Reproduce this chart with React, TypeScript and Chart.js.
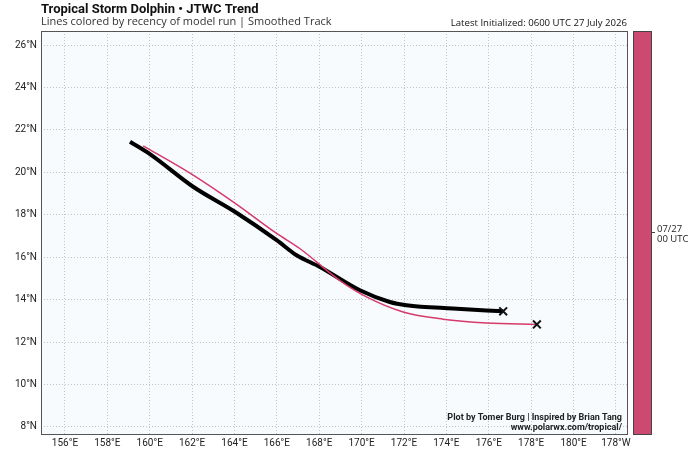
import React, { useEffect, useRef } from "react";
import { Chart, registerables } from "chart.js";
Chart.register(...registerables);

const FONT = "Roboto, 'Noto Sans', sans-serif";
const FONT2 = "'Open Sans', 'Noto Sans', sans-serif";

const titleText = "Tropical Storm Dolphin \u2022 JTWC Trend";
const subtitleText = "Lines colored by recency of model run | Smoothed Track";
const initText = "Latest Initialized: 0600 UTC 27 July 2026";
const creditLines = ["Plot by Tomer Burg | Inspired by Brian Tang", "www.polarwx.com/tropical/"];
const colorbarLabel = ["07/27", "00 UTC"];

const lonTicks = [156, 158, 160, 162, 164, 166, 168, 170, 172, 174, 176, 178, 180, 182];
const latTicks = [8, 10, 12, 14, 16, 18, 20, 22, 24, 26];

const trendLon = [159.07, 160.01, 162.05, 164.02, 165.99, 166.93, 168.03, 169.92, 171.33, 172.12, 174.30, 176.68];
const trendLat = [21.44, 20.86, 19.32, 18.14, 16.80, 16.09, 15.54, 14.44, 13.89, 13.74, 13.58, 13.45];

const runLon = [159.69, 162.05, 164.02, 165.99, 167.08, 168.96, 170.23, 171.96, 173.84, 175.89, 178.27];
const runLat = [21.25, 19.87, 18.55, 17.12, 16.41, 14.91, 14.13, 13.42, 13.08, 12.90, 12.83];

const PINK = "#d63a6b";
const BAR = "#cc4a72";

function lonLabel(v: number) {
  if (v <= 180) return `${v}\u00b0E`;
  return `${360 - v}\u00b0W`;
}

const decorPlugin = {
  id: "decor",
  beforeDraw(chart: any) {
    const { ctx, chartArea } = chart;
    ctx.save();
    ctx.fillStyle = "#f7fbfe";
    ctx.fillRect(chartArea.left, chartArea.top, chartArea.right - chartArea.left, chartArea.bottom - chartArea.top);
    ctx.restore();
  },
  afterDraw(chart: any) {
    const { ctx, chartArea } = chart;
    ctx.save();
    ctx.strokeStyle = "#555555";
    ctx.lineWidth = 1;
    ctx.strokeRect(chartArea.left + 0.5, chartArea.top + 0.5, chartArea.right - chartArea.left - 1, chartArea.bottom - chartArea.top - 1);
    ctx.fillStyle = "#111111";
    ctx.textBaseline = "alphabetic";
    ctx.textAlign = "left";
    ctx.font = `bold 13px ${FONT}`;
    ctx.fillText(titleText, chartArea.left, 13);
    ctx.fillStyle = "#333333";
    ctx.font = `11px ${FONT2}`;
    ctx.fillText(subtitleText, chartArea.left, 25);
    ctx.fillStyle = "#111111";
    ctx.textAlign = "right";
    ctx.font = `9.6px ${FONT2}`;
    ctx.fillText(initText, chartArea.right - 1, 26);
    ctx.font = `bold 9px ${FONT}`;
    ctx.fillStyle = "#222222";
    ctx.fillText(creditLines[0], chartArea.right - 6, 420);
    ctx.fillText(creditLines[1], chartArea.right - 6, 430);
    const bx = chartArea.right + 5;
    const bw = 19;
    ctx.fillStyle = BAR;
    ctx.fillRect(bx, chartArea.top, bw, chartArea.bottom - chartArea.top);
    ctx.strokeStyle = "#444444";
    ctx.strokeRect(bx + 0.5, chartArea.top + 0.5, bw - 1, chartArea.bottom - chartArea.top - 1);
    const ty = 232;
    ctx.beginPath();
    ctx.moveTo(bx + bw, ty + 0.5);
    ctx.lineTo(bx + bw + 3, ty + 0.5);
    ctx.stroke();
    ctx.fillStyle = "#222222";
    ctx.font = `9.5px ${FONT2}`;
    ctx.textAlign = "left";
    ctx.textBaseline = "middle";
    ctx.fillText(colorbarLabel[0], bx + bw + 5, 229);
    ctx.fillText(colorbarLabel[1], bx + bw + 5, 239);
    ctx.restore();
  },
};

export default function App() {
  const ref = useRef<HTMLCanvasElement>(null);
  useEffect(() => {
    document.body.style.margin = "0";
    const canvas = ref.current!;
    const lastRadius = (n: number) => (c: any) => (c.dataIndex === n - 1 ? 5.5 : 0);
    const chart = new Chart(canvas, {
      type: "scatter",
      data: {
        datasets: [
          {
            label: "run",
            data: runLon.map((x, i) => ({ x, y: runLat[i] })),
            showLine: true,
            borderColor: PINK,
            borderWidth: 1.5,
            cubicInterpolationMode: "monotone",
            pointStyle: "crossRot",
            pointRadius: lastRadius(runLon.length),
            pointBorderColor: "#111111",
            pointBorderWidth: 2,
            pointBackgroundColor: "#111111",
          },
          {
            label: "trend",
            data: trendLon.map((x, i) => ({ x, y: trendLat[i] })),
            showLine: true,
            borderColor: "#000000",
            borderWidth: 4,
            cubicInterpolationMode: "monotone",
            pointStyle: "crossRot",
            pointRadius: lastRadius(trendLon.length),
            pointBorderColor: "#111111",
            pointBorderWidth: 2,
            pointBackgroundColor: "#111111",
          },
        ],
      },
      options: {
        responsive: false,
        animation: false,
        layout: { padding: { top: 31, right: 71, left: 0, bottom: 0 } },
        plugins: { legend: { display: false }, tooltip: { enabled: false }, title: { display: false } },
        scales: {
          x: {
            type: "linear",
            min: 154.87,
            max: 182.57,
            afterFit: (s: any) => { s.height = 14; },
            afterBuildTicks: (s: any) => { s.ticks = lonTicks.map((v) => ({ value: v })); },
            ticks: {
              callback: (v: any) => lonLabel(Number(v)),
              color: "#222222",
              font: { family: FONT, size: 10 },
              padding: 2,
              maxRotation: 0,
              autoSkip: false,
            },
            grid: { color: "#c4c4c4", lineWidth: 1, drawTicks: false, tickLength: 0 },
            border: { display: false, dash: [1, 2] },
          },
          y: {
            type: "linear",
            min: 7.62,
            max: 26.66,
            afterFit: (s: any) => { s.width = 41; },
            afterBuildTicks: (s: any) => { s.ticks = latTicks.map((v) => ({ value: v })); },
            ticks: {
              callback: (v: any) => `${v}\u00b0N`,
              color: "#222222",
              font: { family: FONT, size: 10 },
              padding: 4,
              autoSkip: false,
            },
            grid: { color: "#c4c4c4", lineWidth: 1, drawTicks: false, tickLength: 0 },
            border: { display: false, dash: [1, 2] },
          },
        },
      },
      plugins: [decorPlugin],
    } as any);
    return () => chart.destroy();
  }, []);
  return <canvas ref={ref} width={699} height={449} style={{ display: "block" }} />;
}
